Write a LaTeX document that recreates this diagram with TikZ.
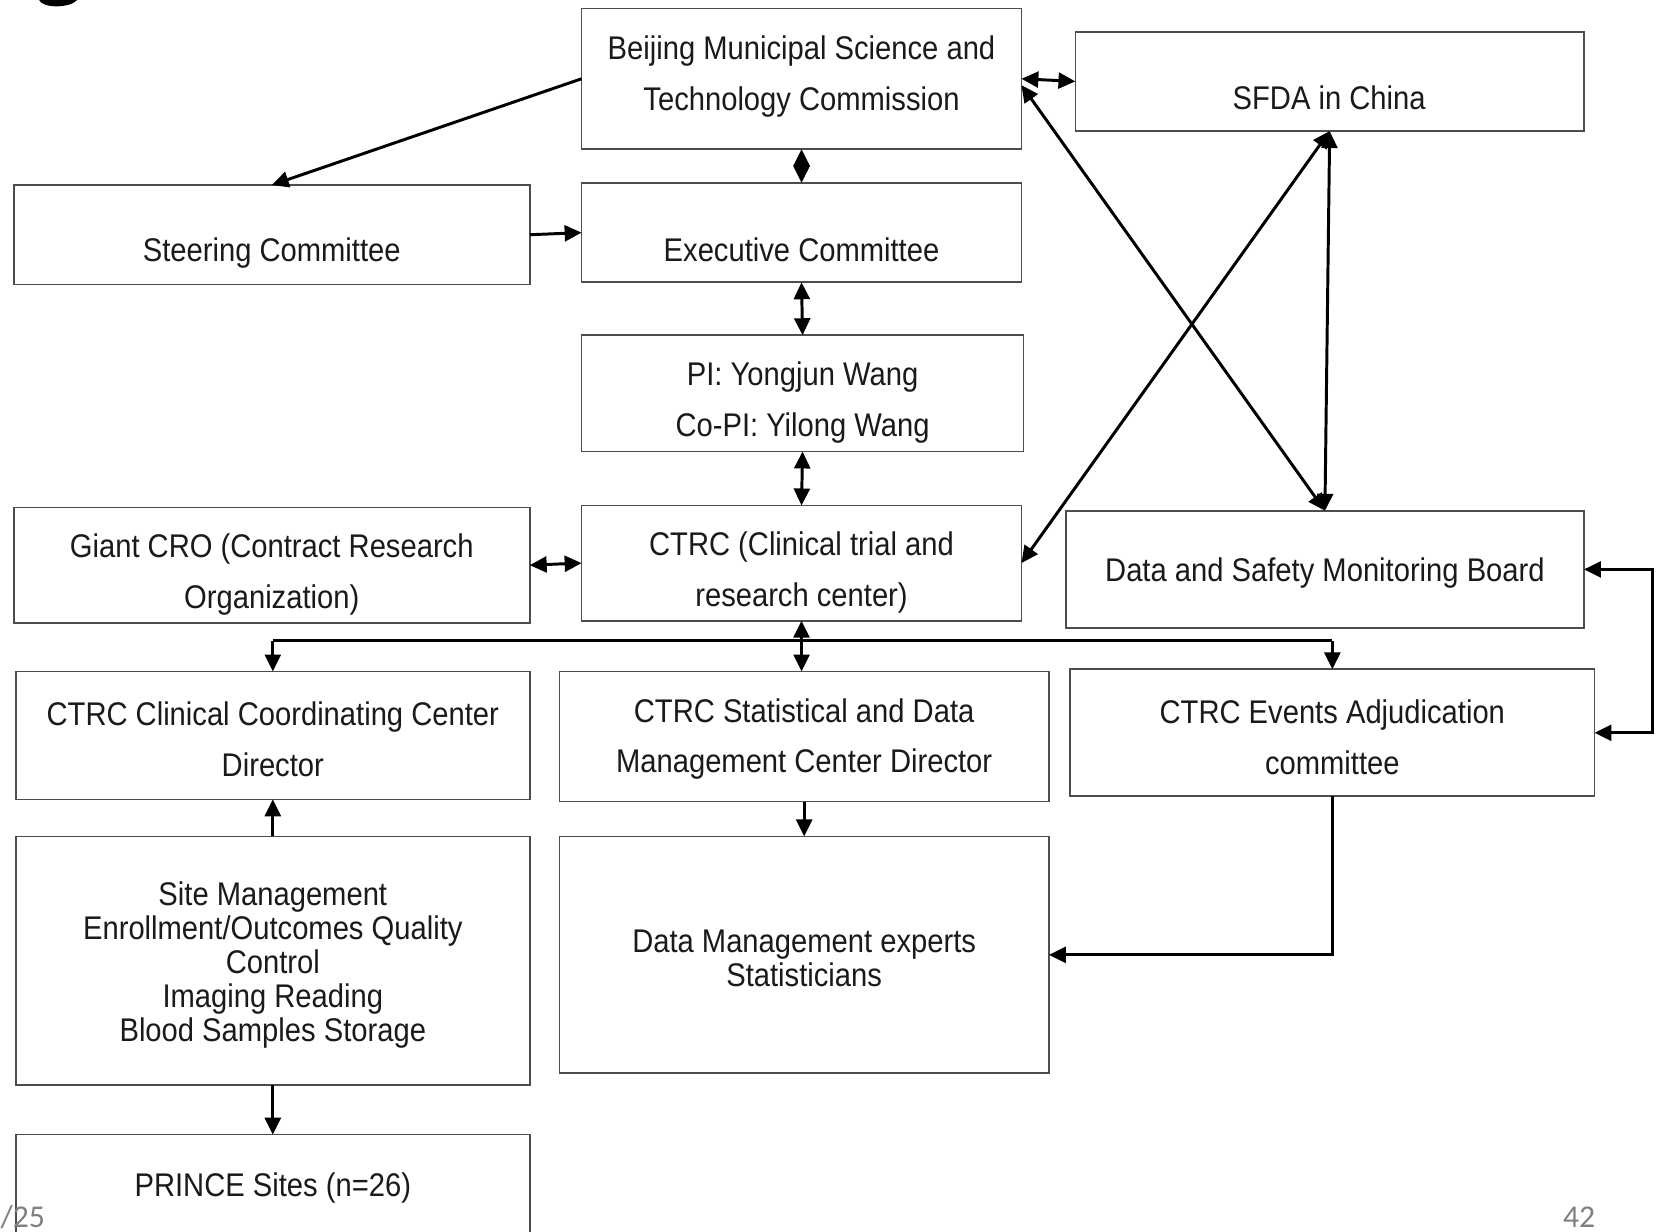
\documentclass[tikz,border=0pt]{standalone}
\usepackage{fontspec}
\setmainfont{Liberation Sans}[FakeStretch=0.89]
\newfontfamily\slidefont{Carlito}
\usetikzlibrary{arrows.meta}
\definecolor{boxline}{HTML}{4D4D4D}
\definecolor{txtcol}{HTML}{1A1A1A}
\definecolor{footcol}{HTML}{808080}
\begin{document}
\begin{tikzpicture}[x=0.5pt,y=-0.5pt,
  >={Triangle[length=8pt,width=7.5pt]},
  box/.style n args={2}{draw=boxline, line width=0.8pt, inner sep=0pt, outer sep=0pt,
    minimum width=#1*0.5pt, minimum height=#2*0.5pt},
  lbl/.style={text=txtcol, align=center, inner sep=0pt, font=\fontsize{15.5}{24}\selectfont},
  lbltight/.style={lbl, font=\fontsize{15.5}{16}\selectfont},
  conn/.style={line width=1.4pt, draw=black, line join=miter},
  foot/.style={text=footcol, inner sep=0pt, font=\slidefont\fontsize{15}{18}\selectfont}]
\useasboundingbox (0,0) rectangle (1568,1165);
\clip (0,0) rectangle (1568,1165);
\fill[white] (0,0) rectangle (1568,1165);

% fragment of the slide title at the top left
\fill[black] (37,0) .. controls (40,8) and (66,8) .. (73,0) -- cycle;

% boxes
\node[box={416}{133}] (beijing) at (758,74.5) {};
\node[box={481}{94}]  (sfda)    at (1257.5,77) {};
\node[box={488}{94}]  (steer)   at (257,222) {};
\node[box={416}{94}]  (exec)    at (758,220) {};
\node[box={418}{110}] (pi)      at (759,372) {};
\node[box={488}{109}] (cro)     at (257,534.5) {};
\node[box={416}{109}] (ctrc)    at (758,532.5) {};
\node[box={490}{111}] (dsmb)    at (1253,538.5) {};
\node[box={486}{121}] (clin)    at (258,695.5) {};
\node[box={463}{123}] (stat)    at (760.5,696.5) {};
\node[box={496}{120}] (evt)     at (1260,693) {};
\node[box={486}{235}] (site)    at (258,908.5) {};
\node[box={463}{224}] (data)    at (760.5,903) {};
\node[box={486}{187}] (prince)  at (258,1166.5) {};

% texts
\node[lbl] (beijing-t) at (758,72.5) {Beijing Municipal Science and\\Technology Commission};
\node[lbl] (sfda-t)    at (1257,92.5) {SFDA in China};
\node[lbl] (steer-t)   at (257,239) {Steering Committee};
\node[lbl] (exec-t)    at (758,236) {Executive Committee};
\node[lbl] (pi-t)      at (759,380.5) {PI: Yongjun Wang\\Co-PI: Yilong Wang};
\node[lbl] (cro-t)     at (257,543.5) {Giant CRO (Contract Research\\Organization)};
\node[lbl] (ctrc-t)    at (758,541.5) {CTRC (Clinical trial and\\research center)};
\node[lbl] (dsmb-t)    at (1253,542) {Data and Safety Monitoring Board};
\node[lbl] (clin-t)    at (258,699) {CTRC Clinical Coordinating Center\\Director};
\node[lbl] (stat-t)    at (760.5,699) {CTRC Statistical and Data\\Management Center Director};
\node[lbl] (evt-t)     at (1260,697) {CTRC Events Adjudication\\committee};
\node[lbltight] (site-t) at (258,912.5) {Site Management\\Enrollment/Outcomes Quality\\Control\\Imaging Reading\\Blood Samples Storage};
\node[lbltight] (data-t) at (760.5,906) {Data Management experts\\Statisticians};
\node[lbl] (prince-t)  at (258,1123.5) {PRINCE Sites (n=26)};

% connectors
\coordinate (bus) at (758,606);
\coordinate (rt) at (1563,0);
\draw[conn,->]  (beijing.west) -- (steer.north);
\draw[conn,->]  (steer.east) -- (exec.west);
\draw[conn,<->] (beijing.south) -- (exec.north);
\draw[conn,<->] (exec.south) -- (pi.north);
\draw[conn,<->] (pi.south) -- (ctrc.north);
\draw[conn,<->] (cro.east) -- (ctrc.west);
\draw[conn,<->] (beijing.east) -- (sfda.west);
\draw[conn,<->] ([yshift=-3pt]beijing.east) -- (dsmb.north);
\draw[conn,<->] (ctrc.east) -- (sfda.south);
\draw[conn,<->] (sfda.south) -- (dsmb.north);
\draw[conn,<->] (ctrc.south) -- (ctrc.south |- stat.north);
\draw[conn,->]  (bus -| clin.north) -- (clin.north);
\draw[conn]     (bus -| clin.north) -- (bus -| evt.north);
\draw[conn,->]  (bus -| evt.north) -- (evt.north);
\draw[conn,<->] (dsmb.east) -- (dsmb.east -| rt) -- (evt.east -| rt) -- (evt.east);
\draw[conn,->]  (stat.south) -- (data.north);
\draw[conn,->]  (evt.south) |- (data.east);
\draw[conn,->]  (site.north) -- (clin.south);
\draw[conn,->]  (site.south) -- (prince.north);

% slide footer
\node[foot, anchor=base east] (pageno) at (43,1161) {1/25};
\node[foot, anchor=base east] (slideno) at (1509,1161) {42};
\end{tikzpicture}
\end{document}
